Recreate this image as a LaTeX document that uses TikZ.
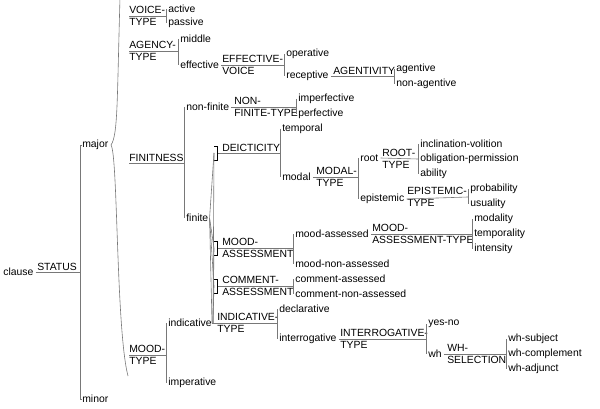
\documentclass[tikz,border=0pt]{standalone}
\usepackage{fontspec}
\setmainfont{Liberation Sans}
\usepackage{tikz}

\begin{document}
\begin{tikzpicture}[x=1pt,y=-1pt,line width=0.6pt]

	\definecolor{netgray}{RGB}{120,120,120}

	\tikzstyle{edge} = [draw,netgray]
	\tikzset{feature/.style = {anchor=west,inner sep=0pt,font=\fontsize{10.4}{11.5}\selectfont}}
	\tikzset{system/.style = {anchor=west,inner sep=0pt,align=left,font=\fontsize{10.4}{11.5}\selectfont}}
	\tikzset{system1/.style = {anchor=south west,inner sep=1pt,font=\fontsize{10.4}{11.5}\selectfont}}

	\useasboundingbox (0,0) rectangle (600,409);

	% root
	\node[feature] (clause) at (3,272) {clause};
	\node[system1] (status) at (36,272) {STATUS};
	\draw[edge] (clause.east) ++(2,0) -- (80,272);
	\draw[edge] (80,145) -- (80,399);
	\node[feature] (major) at (82,145) {major};
	\node[feature] (minor) at (82,399) {minor};
	\draw[edge] (80,145) -- (major.west);
	\draw[edge] (80,399) -- (minor.west);

	% brace
	\draw[edge] (120,-2) .. controls (117,100) and (118,135) .. (111,145)
		.. controls (118,155) and (116,330) .. (128,376);

	% voice
	\node[system] (voicetype) at (129,16) {VOICE-\\TYPE};
	\draw[edge] (129,16) -- (166,16);
	\draw[edge] (166,9) -- (166,23);
	\node[feature] (active) at (168,9) {active};
	\node[feature] (passive) at (168,23) {passive};

	% agency
	\node[system] (agencytype) at (129,51) {AGENCY-\\TYPE};
	\draw[edge] (129,51) -- (178,51);
	\draw[edge] (178,39) -- (178,65);
	\node[feature] (middle) at (180,39) {middle};
	\node[feature] (effective) at (180,65) {effective};
	\node[system] (effvoice) at (222,65) {EFFECTIVE-\\VOICE};
	\draw[edge] (effective.east) ++(2,0) -- (284,65);
	\draw[edge] (284,54) -- (284,76);
	\node[feature] (operative) at (286,54) {operative};
	\node[feature] (receptive) at (286,76) {receptive};
	\node[system1] (agentivity) at (332,76) {AGENTIVITY};
	\draw[edge] (receptive.east) ++(2,0) -- (394,76);
	\draw[edge] (394,69) -- (394,84);
	\node[feature] (agentive) at (396,69) {agentive};
	\node[feature] (nonagentive) at (396,84) {non-agentive};

	% finiteness
	\node[system1] (finitness) at (128,163) {FINITNESS};
	\draw[edge] (129,163) -- (184,163);
	\draw[edge] (184,107) -- (184,218);
	\node[feature] (nonfinite) at (186,107) {non-finite};
	\node[feature] (finite) at (186,218) {finite};
	\node[system] (nonfinitetype) at (234,107) {NON-\\FINITE-TYPE};
	\draw[edge] (nonfinite.east) ++(2,0) -- (296,107);
	\draw[edge] (296,99) -- (296,114);
	\node[feature] (imperfective) at (298,99) {imperfective};
	\node[feature] (perfective) at (298,114) {perfective};

	% deicticity
	\node[system1] (deicticity) at (221,153) {DEICTICITY};
	\draw[edge] (218,153) -- (280,153);
	\draw[edge] (280,129) -- (280,177);
	\node[feature] (temporal) at (282,129) {temporal};
	\node[feature] (modal) at (282,177) {modal};
	\node[system] (modaltype) at (316,177) {MODAL-\\TYPE};
	\draw[edge] (modal.east) ++(2,0) -- (358,177);
	\draw[edge] (358,158) -- (358,199);
	\node[feature] (root) at (360,158) {root};
	\node[feature] (epistemic) at (360,199) {epistemic};
	\node[system] (roottype) at (382,159) {ROOT-\\TYPE};
	\draw[edge] (root.east) ++(2,0) -- (418,159);
	\draw[edge] (418,144) -- (418,174);
	\node[feature] (inclination) at (420,144) {inclination-volition};
	\node[feature] (obligation) at (420,159) {obligation-permission};
	\node[feature] (ability) at (420,174) {ability};
	\node[system] (epistemictype) at (407,197) {EPISTEMIC-\\TYPE};
	\draw[edge] (epistemic.east) ++(2,0) -- (468,197);
	\draw[edge] (468,189) -- (468,204);
	\node[feature] (probability) at (470,189) {probability};
	\node[feature] (usuality) at (470,204) {usuality};

	% mood assessment
	\node[system] (moodassessment) at (222,248) {MOOD-\\ASSESSMENT};
	\draw[edge] (218,248) -- (293,248);
	\draw[edge] (293,234) -- (293,264);
	\node[feature] (moodassessed) at (295,234) {mood-assessed};
	\node[feature] (moodnonassessed) at (295,264) {mood-non-assessed};
	\node[system] (moodassessmenttype) at (372,234) {MOOD-\\ASSESSMENT-TYPE};
	\draw[edge] (moodassessed.east) ++(2,0) -- (472,234);
	\draw[edge] (472,219) -- (472,249);
	\node[feature] (modality) at (474,219) {modality};
	\node[feature] (temporality) at (474,234) {temporality};
	\node[feature] (intensity) at (474,249) {intensity};

	% comment assessment
	\node[system] (commentassessment) at (222,286) {COMMENT-\\ASSESSMENT};
	\draw[edge] (218,286) -- (293,286);
	\draw[edge] (293,279) -- (293,294);
	\node[feature] (commentassessed) at (295,279) {comment-assessed};
	\node[feature] (commentnonassessed) at (295,294) {comment-non-assessed};

	% mood
	\node[system] (moodtype) at (129,355) {MOOD-\\TYPE};
	\draw[edge] (129,355) -- (166,355);
	\draw[edge] (166,323) -- (166,383);
	\node[feature] (indicative) at (168,323) {indicative};
	\node[feature] (imperative) at (168,383) {imperative};
	\node[system] (indicativetype) at (217,323) {INDICATIVE-\\TYPE};
	\draw[edge] (212,323) -- (277,323);
	\draw[edge] (277,309) -- (277,339);
	\node[feature] (declarative) at (279,309) {declarative};
	\node[feature] (interrogative) at (279,339) {interrogative};
	\node[system] (interrogativetype) at (340,339) {INTERROGATIVE-\\TYPE};
	\draw[edge] (interrogative.east) ++(2,0) -- (426,339);
	\draw[edge] (426,324) -- (426,354);
	\node[feature] (yesno) at (428,324) {yes-no};
	\node[feature] (wh) at (428,354) {wh};
	\node[system] (whselection) at (447,354) {WH-\\SELECTION};
	\draw[edge] (wh.east) ++(2,0) -- (506,354);
	\draw[edge] (506,339) -- (506,369);
	\node[feature] (whsubject) at (508,339) {wh-subject};
	\node[feature] (whcomplement) at (508,354) {wh-complement};
	\node[feature] (whadjunct) at (508,369) {wh-adjunct};

	% conjunction of finite and indicative
	\foreach \y in {153,248,286} {
		\draw[black,line width=0.8pt] (214,\y-7) -- (217,\y-7) -- (217,\y+7) -- (214,\y+7);
		\draw[edge] (finite.east) ++(1,0) -- (214,\y);
		\draw[edge] (indicative.east) ++(1,0) -- (214,\y);
	}
	\draw[edge] (finite.east) ++(1,0) -- (212,323);
	\end{tikzpicture}
\end{document}
